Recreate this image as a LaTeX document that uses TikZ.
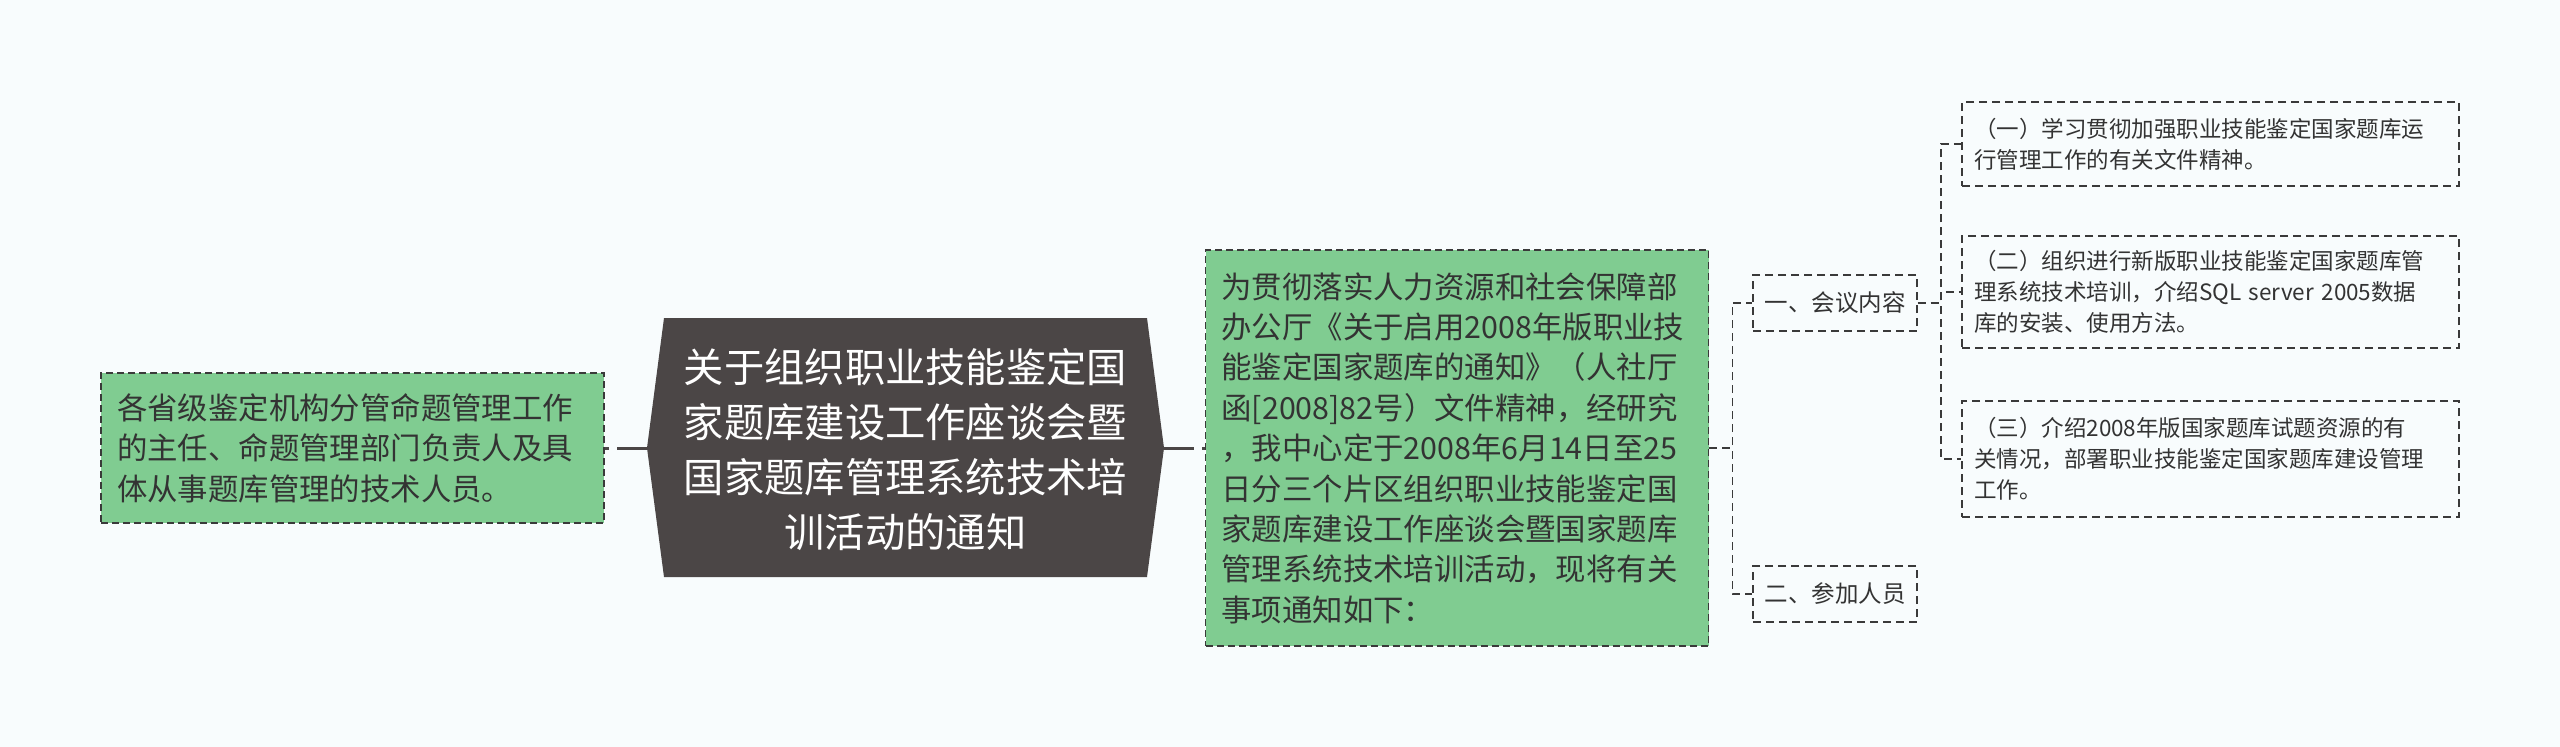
\documentclass[tikz,border=0pt]{standalone}
\usepackage{fontspec}
\setmainfont{Noto Sans CJK SC}
\definecolor{pagebg}{HTML}{F8FCFD}
\definecolor{leafgreen}{HTML}{80CC91}
\definecolor{titlegray}{HTML}{4B4646}
\definecolor{edgegray}{HTML}{3A3A3A}
\definecolor{inkgray}{HTML}{333333}
\tikzset{
  greenbox/.style={draw=edgegray, fill=leafgreen, line width=1.6pt,
    dash pattern=on 7pt off 4pt, text=inkgray, align=left,
    text width=471pt, inner xsep=16pt,
    font=\fontsize{30.4}{40.4}\selectfont},
  plainbox/.style={draw=edgegray, line width=1.6pt,
    dash pattern=on 8pt off 5pt, text=inkgray, align=left,
    font=\fontsize{22.5}{31}\selectfont},
  trunk/.style={draw=titlegray, line width=3pt, dash pattern=on 30pt off 8pt},
  link/.style={draw=edgegray, line width=1.6pt, dash pattern=on 8pt off 5pt}
}
\begin{document}
\begin{tikzpicture}[x=1pt,y=-1pt,every node/.style={inner sep=0pt}]
  \fill[pagebg] (0,0) rectangle (2560,747);
  % central title shape
  \coordinate (tipW) at (647,448);
  \coordinate (tipE) at (1164,448);
  \fill[titlegray] (tipW) -- (664,318) -- (1147,318) -- (tipE)
    -- (1147,577) -- (664,577) -- cycle;
  \node[text=white, align=center, font=\fontsize{40.3}{55}\selectfont] (title)
    at (905.5,450) {关于组织职业技能鉴定国\\家题库建设工作座谈会暨\\国家题库管理系统技术培\\训活动的通知};
  % left and middle boxes
  \node[greenbox, minimum height=150pt] (staff)
    at (352.5,448) {各省级鉴定机构分管命题管理工作\\的主任、命题管理部门负责人及具\\体从事题库管理的技术人员。};
  \node[greenbox, minimum height=396pt] (notice)
    at (1457,448) {为贯彻落实人力资源和社会保障部\\办公厅《关于启用2008年版职业技\\能鉴定国家题库的通知》（人社厅\\函[2008]82号）文件精神，经研究\\，我中心定于2008年6月14日至25\\日分三个片区组织职业技能鉴定国\\家题库建设工作座谈会暨国家题库\\管理系统技术培训活动，现将有关\\事项通知如下：};
  % right side
  \node[plainbox, font=\fontsize{23.5}{31}\selectfont, minimum width=164pt,
    minimum height=56pt] (content) at (1835,303) {一、会议内容};
  \node[plainbox, font=\fontsize{23.5}{31}\selectfont, minimum width=164pt,
    minimum height=56pt] (people) at (1835,594) {二、参加人员};
  \node[plainbox, text width=473pt, inner xsep=12pt, minimum height=84pt] (item1)
    at (2210.5,144) {（一）学习贯彻加强职业技能鉴定国家题库运\\行管理工作的有关文件精神。};
  \node[plainbox, text width=473pt, inner xsep=12pt, minimum height=112pt] (item2)
    at (2210.5,292) {（二）组织进行新版职业技能鉴定国家题库管\\理系统技术培训，介绍SQL server 2005数据\\库的安装、使用方法。};
  \node[plainbox, text width=473pt, inner xsep=12pt, minimum height=116pt] (item3)
    at (2210.5,459) {（三）介绍2008年版国家题库试题资源的有\\关情况，部署职业技能鉴定国家题库建设管理\\工作。};
  % connectors
  \draw[trunk] (tipW) -- (staff.east);
  \draw[trunk] (tipE) -- (notice.west);
  \draw[link] (notice.east) -- ++(23,0) |- (content.west);
  \draw[link] (notice.east) -- ++(23,0) |- (people.west);
  \draw[link] (content.east) -- ++(23,0) |- (item1.west);
  \draw[link] (content.east) -- ++(23,0) |- (item2.west);
  \draw[link] (content.east) -- ++(23,0) |- (item3.west);
\end{tikzpicture}
\end{document}
